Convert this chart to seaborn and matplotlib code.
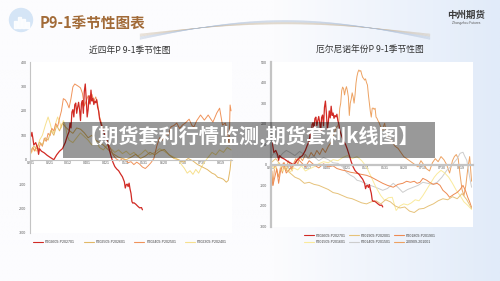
import numpy as np
import pandas as pd
import seaborn as sns
import matplotlib.pyplot as plt
from matplotlib.patches import Rectangle, Circle
from matplotlib.lines import Line2D

sns.set_theme(style="white")
plt.rcParams['font.family'] = ['Liberation Sans', 'Noto Sans CJK SC', 'DejaVu Sans']
plt.rcParams['axes.unicode_minus'] = False
CJK = ['Noto Sans CJK SC', 'DejaVu Sans']

# x axis: days counted from 02-01
tick_days = [0, 20, 39, 59, 79, 99, 119, 139, 159, 179, 199]
tick_labels = ["0201", "0221", "0312", "0401", "0421", "0511", "0531", "0620", "0710", "0730", "0819"]

# P202609-P202701 (shown in both charts)
d_2609 = [0, 1, 2, 3, 5, 7, 8, 9, 11, 14, 17, 20, 22, 24, 27, 30, 33, 36, 38, 40,
          41, 42, 43, 44, 45, 46, 47, 48, 49, 50, 51, 52, 53, 54, 55, 56, 57, 58, 59, 60,
          61, 62, 63, 64, 65, 66, 67, 68, 69, 70, 71,
          72, 74, 76, 78, 80, 82, 84, 86, 88, 90, 92, 94, 96, 98,
          99, 100, 101, 102, 103, 104, 105, 106, 107, 108, 110, 112, 114, 116, 117]
v_2609 = [95, 112, 88, 60, 70, 48, 22, 45, 35, 28, 18, 10, 5, 0, 20, 35, 45, 70, 95, 115,
          150, 130, 195, 205, 175, 225, 232, 190, 215, 235, 205, 160, 230, 242, 190, 280, 310, 250, 175, 205,
          262, 228, 285, 240, 252, 226, 240, 233, 246, 215, 200,
          168, 140, 115, 100, 75, 45, 15, -10, -28, -38, -45, -58, -70, -90,
          -116, -102, -100, -110, -96, -120, -138, -172, -178, -176, -182, -190, -197, -196, -205]

# P202509-P202601
d_2509 = [0, 3, 6, 9, 12, 15, 18, 21, 24, 27, 30, 33, 36,
          40, 44, 48, 52, 56, 60, 64, 68, 72, 76, 80, 84, 88, 92, 96,
          100, 105, 110, 115, 120, 125, 130, 135, 140, 145, 150, 155, 160, 165, 170, 175, 180, 185, 190,
          193, 196, 199, 202, 205, 207, 209, 210]
v_2509 = [40, 55, 45, 72, 60, 90, 80, 120, 100, 140, 118, 150, 135,
          120, 108, 130, 125, 110, 90, 100, 80, 70, 60, 45, 30, 20, 10, 5,
          0, 10, 22, 5, 15, 30, 20, 35, 42, 20, 5, 0, -10, 5, -5, -20, -30, -40, -55,
          -60, -72, -75, -80, -92, -85, -40, 0]

# P202409-P202501
d_2409 = [0, 2, 4, 6, 8, 10, 12, 14, 16, 18, 20, 22, 24, 26, 28, 30, 32, 34, 36, 38,
          40, 42, 44, 46, 48, 50, 52, 54, 56, 58, 60, 62, 64, 66, 68, 70, 72, 74, 76, 78,
          80, 82, 84, 86, 88, 90,
          93, 96, 99, 102, 105, 108, 111, 114, 117, 120, 123, 126, 129, 132, 135, 138, 141, 144, 147, 150,
          153, 156, 159,
          162, 166, 169, 171, 174, 178, 182, 186, 189, 191, 195, 198, 201, 204, 206, 208, 209, 210]
v_2409 = [30, 50, 35, 60, 40, 68, 55, 88, 75, 108, 98, 128, 118, 148, 135, 170, 200, 250, 245, 232,
          212, 250, 298, 310, 305, 300, 294, 272, 220, 240, 262, 250, 268, 240, 257, 228, 176, 150, 122, 100,
          82, 58, 40, 22, 10, 2,
          -5, 5, 0, -12, -8, -20, -10, -18, -30, -36, -25, -12, 5, 55, 90, 80, 108, 100, 135, 140,
          150, 128, 142,
          150, 166, 140, 134, 160, 183, 162, 183, 165, 154, 191, 211, 142, 150, 121, 60, 224, 200]

# P202309-P202401
d_2309 = [0, 3, 6, 9, 12, 15, 18,
          20, 22, 24, 26, 28, 30, 32, 34, 36, 38, 40,
          44, 48, 52, 56, 60, 64, 68, 72, 76, 80, 84, 88, 92, 96, 100, 104, 108, 112, 116, 120,
          125, 130, 135, 140, 145, 150, 155,
          158, 161, 164, 167, 170, 173, 176, 179, 182,
          186, 190, 194, 198, 202, 206, 210]
v_2309 = [25, 45, 35, 80, 100, 140, 175,
          150, 120, 110, 150, 175, 155, 130, 160, 140, 100, 80,
          70, 90, 110, 95, 80, 60, 75, 50, 40, 60, 45, 30, 40, 25, 35, 20, 30, 15, 25, 40,
          20, 30, 45, 35, 20, 10, 0,
          -20, -35, -55, -45, -60, -40, -55, -30, -10,
          10, 30, 20, 40, 30, 50, 40]

# P201909-P202001
d_1909 = [0, 5, 10, 15, 20, 25, 30, 35, 40, 45, 50, 55, 60, 65, 70, 75, 80, 85, 90, 95,
          100, 105, 110, 115, 120, 125, 130, 135, 140, 145, 150, 155, 160, 165, 170, 175, 180, 185, 190, 195,
          200, 205, 210]
v_1909 = [10, 30, 0, -20, -40, -60, -70, -90, -85, -95, -100, -110, -120, -135, -140, -150, -160, -165, -175, -185,
          -190, -180, -175, -190, -170, -180, -200, -210, -205, -225, -232, -215, -212, -200, -190, -175, -165, -170, -155, -165,
          -140, -170, -212]

# P201809-P201901
d_1809 = [0, 2, 4, 6, 8, 10, 13, 16, 20, 24, 28, 32, 36, 40, 45, 50, 55, 60, 65, 69,
          74, 79, 83, 88, 93, 100, 105, 111, 117, 122, 128, 133, 138, 142, 146, 150, 153, 156, 159, 163,
          166, 170, 174, 177, 180, 184, 187, 191, 195, 198, 201, 204, 206, 208, 210]
v_1809 = [-40, -100, -60, -20, -90, -30, 10, -40, -20, 0, 30, 10, -10, 20, 0, -15, 5, -10, -5, -18,
          -25, -30, -36, -40, -45, -51, -60, -75, -90, -100, -109, -95, -90, -80, -85, -80, -90, -85, -66, -75,
          -85, -95, -90, -100, -124, -140, -158, -145, -134, -120, -100, -130, -158, -180, -207]

# P201509-P201601
d_1509 = [0, 4, 8, 12, 16, 20, 24, 28, 32, 36, 40,
          45, 50, 55, 60, 65, 70, 75, 80, 85, 90, 95, 100, 105, 110, 115,
          119, 123, 127, 131, 135, 139, 143, 147, 151, 155, 159, 163, 167, 171,
          174, 178, 182, 186, 190, 194, 198, 202, 206, 210]
v_1509 = [0, -20, 10, -30, -10, -35, -15, -25, -5, -30, -20,
          -10, 5, 15, 10, 25, 20, 35, 45, 30, 40, 20, -10, -60, -110, -150,
          -173, -160, -158, -222, -200, -190, -195, -185, -170, -175, -150, -120, -90, -60,
          -43, -27, -40, -60, -90, -124, -150, -180, -197, -217]

# P201409-P201501
d_1409 = [0, 4, 8, 12, 16, 20,
          25, 30, 35, 40, 45, 50, 55, 60, 65, 70, 75,
          79, 83, 87, 90, 94, 98, 104, 110, 117, 122,
          128, 133, 138, 143, 149, 154, 159, 164, 169, 174,
          179, 184, 188, 191, 195, 198, 201, 203, 205, 208, 210]
v_1409 = [40, 60, 30, 55, 70, 60,
          45, 65, 50, 30, 40, 20, 35, 25, 10, 7, -10,
          -36, -50, -60, -75, -80, -90, -100, -110, -124, -115,
          -90, -110, -134, -120, -109, -100, -85, -90, -95, -85,
          -60, -27, -10, 7, 30, 56, 61, 40, 22, -60, -109]

# 200909-201001
d_0909 = [0, 1, 2, 3, 4,
          6, 8, 10, 12, 14, 16, 18, 20, 22, 24, 26, 28, 30,
          33, 36, 39, 42, 45, 48, 51, 54, 57, 60, 63, 66, 68, 70,
          71, 72, 73, 74, 75, 76, 77, 78, 79, 80, 81, 82, 83, 84, 85, 86, 87, 88, 89, 90,
          91, 92, 93, 94, 95, 96, 97, 98, 99, 100, 101, 102, 103, 104, 105, 106, 107, 108, 109, 110,
          111, 112, 113, 114, 115, 116, 117, 118, 119, 120, 121,
          124, 127, 130, 133, 136, 139, 142, 145, 148, 151, 154, 157, 160, 163, 166, 169, 172, 175, 178, 181,
          184, 187, 190,
          192, 194, 196, 198, 200, 202, 204, 206, 208, 210]
v_0909 = [-80, -30, -100, -50, 0,
          -20, -60, -10, -40, 10, -30, 20, 0, -30, 10, 30, 0, 40,
          20, 50, 30, 60, 40, 70, 50, 80, 60, 90, 110, 150, 180, 190,
          210, 275, 300, 360, 378, 370, 340, 365, 380, 360, 330, 240, 300, 320, 350, 330, 300, 340, 397, 430,
          450, 461, 455, 458, 440, 425, 420, 412, 418, 400, 388, 340, 300, 260, 232, 275, 276, 270, 275, 232,
          226, 215, 207, 195, 183, 175, 168, 190, 202, 175, 144,
          130, 110, 90, 80, 60, 40, 30, 20, 10, 0, -10, 20, 0, -20, -30, 10, 30, 15, 40, 25,
          0, -40, 20,
          40, 50, 30, -50, -120, -150, -100, -20, 40, -80]

left_series = [
    ("P202609-P202701", d_2609, v_2609, "#d12a24", 0.9),
    ("P202509-P202601", d_2509, v_2509, "#e2b866", 0.7),
    ("P202409-P202501", d_2409, v_2409, "#f0935a", 0.7),
    ("P202309-P202401", d_2309, v_2309, "#f7e08e", 0.7),
]
right_series = [
    ("P202609-P202701", d_2609, v_2609, "#d12a24", 0.9),
    ("P201909-P202001", d_1909, v_1909, "#e6c27a", 0.7),
    ("P201809-P201901", d_1809, v_1809, "#ee8a52", 0.7),
    ("P201509-P201601", d_1509, v_1509, "#faea9c", 0.7),
    ("P201409-P201501", d_1409, v_1409, "#cdcdcd", 0.7),
    ("200909-201001", d_0909, v_0909, "#eda262", 0.7),
]

W, H = 500, 281
fig = plt.figure(figsize=(5, 2.81), dpi=100)

# background (pixel coords)
bg = fig.add_axes([0, 0, 1, 1], zorder=-10)
xs = np.linspace(0, 1, 300)
t = np.clip((xs - 0.55) / 0.45, 0, 1)[None, :, None]
c0 = np.array([252, 252, 254]) / 255
c1 = np.array([225, 235, 249]) / 255
img = np.repeat(c0 * (1 - t) + c1 * t, 2, axis=0)
bg.imshow(img, extent=[0, W, H, 0], aspect='auto')
bg.set_xlim(0, W)
bg.set_ylim(H, 0)
bg.axis('off')

# faint swoosh lines at the top
xx = np.linspace(140, 430, 120)
for k in range(10):
    yy = 34 - 20 * np.sin((xx - 140) / 290 * np.pi) * (0.5 + 0.05 * k) + 0.6 * k
    col = '#c9b79c' if k < 5 else '#a9bcd6'
    bg.plot(xx, yy, color=col, lw=0.3, alpha=0.55)

# logo icon
bg.add_patch(Circle((21, 20), 11.5, color='#d5e5f6'))
for bx, bw, bh in [(14, 3, 7), (18, 3, 11), (22, 3, 9), (26, 2.5, 6)]:
    bg.add_patch(Rectangle((bx, 28 - bh), bw, bh, color='white', alpha=0.9))

fig.text(40 / W, 1 - 22.5 / H, "P9-1季节性图表", fontsize=10.5, weight='bold',
         color='#a26b38', ha='left', va='center', family=CJK)
fig.text(466 / W, 1 - 15 / H, "中州期货", fontsize=6.8, weight='bold',
         color='#3c3c3c', ha='center', va='center', family=CJK)
fig.text(466 / W, 1 - 23 / H, "Zhongzhou Futures", fontsize=2.3,
         color='#555555', ha='center', va='center')


def style_axes(ax, ylim, yticks, axis_lw, xlim):
    ax.set_facecolor('white')
    ax.set_xlim(xlim)
    ax.set_ylim(ylim)
    ax.set_yticks(yticks)
    ax.set_xticks(tick_days)
    ax.set_xticklabels(tick_labels)
    ax.set_xlabel("")
    ax.set_ylabel("")
    ax.grid(False)
    for s in ['top', 'right']:
        ax.spines[s].set_visible(False)
    ax.spines['bottom'].set_position(('data', 0))
    ax.spines['bottom'].set_color('#c4c4c4')
    ax.spines['bottom'].set_linewidth(axis_lw)
    ax.spines['left'].set_color('#c4c4c4')
    ax.spines['left'].set_linewidth(axis_lw)
    ax.tick_params(axis='x', length=0, labelsize=2.6, pad=1.2, labelcolor='#595959')
    ax.tick_params(axis='y', length=1.5, width=0.4, color='#c4c4c4', labelsize=2.6,
                   pad=1, labelcolor='#595959')


def draw(ax, series):
    for name, d, v, c, lw in reversed(series):
        sns.lineplot(x=d, y=v, color=c, lw=lw, ax=ax, estimator=None, sort=False)


# left chart
axL = fig.add_axes([30 / W, 1 - 233 / H, 202 / W, 171 / H])
draw(axL, left_series)
style_axes(axL, (-300, 400), [-300, -200, -100, 0, 100, 200, 300, 400], 0.8, (-1, 211))
hL = [Line2D([], [], color=c, lw=0.8) for _, _, _, c, _ in left_series]
axL.legend(hL, [n for n, *_ in left_series], loc='center', bbox_to_anchor=(0.495, -0.053),
           ncol=4, frameon=False, fontsize=2.6, handlelength=2.8, handletextpad=0.5,
           columnspacing=2.4, labelcolor='#404040')
fig.text(130 / W, 1 - 50 / H, "近四年P 9-1季节性图", fontsize=6.3, color='#333333',
         ha='center', va='center', family=CJK)

# right chart
axR = fig.add_axes([270.7 / W, 1 - 226.5 / H, 202.3 / W, 164.5 / H])
draw(axR, right_series)
style_axes(axR, (-300, 500), [-300, -200, -100, 0, 100, 200, 300, 400, 500], 1.6, (-0.3, 211.5))
order = [0, 3, 1, 4, 2, 5]
hR = [Line2D([], [], color=right_series[i][3], lw=0.8) for i in order]
axR.legend(hR, [right_series[i][0] for i in order], loc='center', bbox_to_anchor=(0.491, -0.076),
           ncol=3, frameon=False, fontsize=2.6, handlelength=2.8, handletextpad=0.5,
           columnspacing=0.9, labelspacing=0.75, labelcolor='#404040')
fig.text(370 / W, 1 - 50 / H, "厄尔尼诺年份P 9-1季节性图", fontsize=6.3, color='#333333',
         ha='center', va='center', family=CJK)

# overlay banner
fig.add_artist(Rectangle((63 / W, 1 - 158 / H), 372 / W, 36 / H, transform=fig.transFigure,
                         facecolor='black', alpha=0.4, edgecolor='none', zorder=5))
fig.text(249 / W, 1 - 136 / H, "【期货套利行情监测,期货套利k线图】", fontsize=14.5, weight='bold',
         color='white', ha='center', va='center', family=CJK, zorder=6)

fig.savefig("out.png", dpi=100)
